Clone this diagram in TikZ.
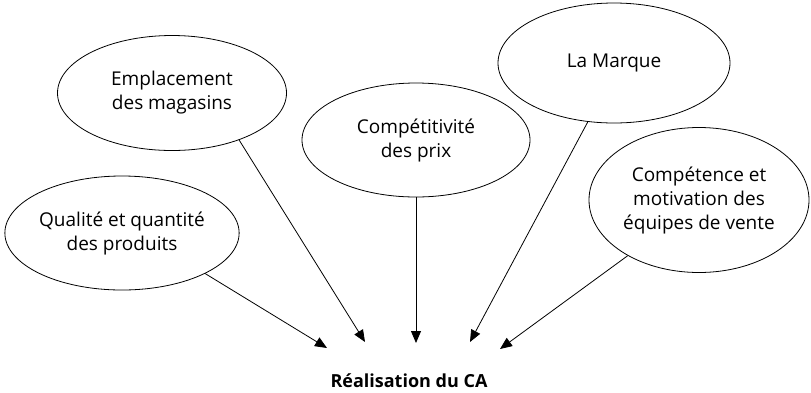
\documentclass[tikz,border=0pt]{standalone}
\usepackage{fontspec}
\setmainfont{Open Sans}
\usetikzlibrary{shapes.geometric,arrows.meta}
\begin{document}
\begin{tikzpicture}[x=1pt,y=-1pt,
  factor/.style={draw,ellipse,line width=0.8pt,inner sep=0pt,align=center,
    font=\fontsize{19}{24}\selectfont},
  link/.style={line width=0.8pt,-{Triangle[length=12pt,width=10pt]}}]
\useasboundingbox (0,0) rectangle (811,392);
% factors
\node[factor,minimum width=229pt,minimum height=115pt] (empl) at (172,93) {Emplacement\\des magasins};
\node[factor,minimum width=228pt,minimum height=114pt] (prix) at (416,140) {Compétitivité\\des prix};
\node[factor,minimum width=232pt,minimum height=120pt] (marque) at (614,63) {La Marque};
\node[factor,minimum width=220pt,minimum height=145pt] (equipe) at (699,200) {Compétence et\\motivation des\\équipes de vente};
\node[factor,minimum width=230pt,minimum height=114pt] (qualite) at (122,233) {Qualité et quantité\\des produits};
% result
\node[font=\bfseries\fontsize{18}{20}\selectfont,inner sep=0pt] (ca) at (409,381) {Réalisation du CA};
% arrow ends
\coordinate (t1) at (327,348);
\coordinate (t2) at (365,342);
\coordinate (t3) at (416,343);
\coordinate (t4) at (470,342);
\coordinate (t5) at (500,349);
\draw[link] (qualite.-26) -- (t1);
\draw[link] (empl.-35) -- (t2);
\draw[link] (prix.south) -- (t3);
\draw[link] (marque.-114) -- (t4);
\draw[link] (equipe.-142) -- (t5);
\end{tikzpicture}
\end{document}
